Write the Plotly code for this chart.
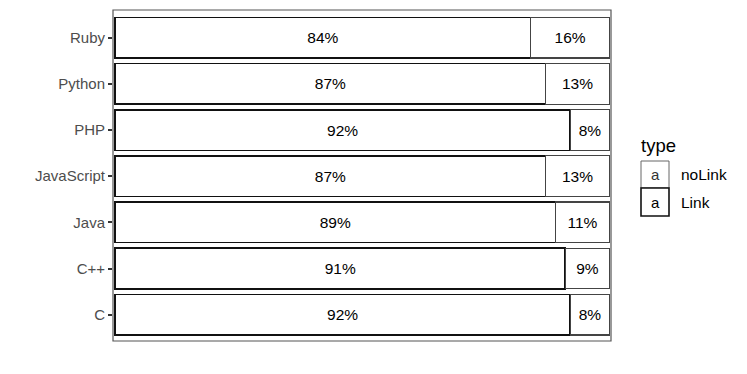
import plotly.graph_objects as go

languages = ["C", "C++", "Java", "JavaScript", "PHP", "Python", "Ruby"]
link_share = [0.92, 0.91, 0.89, 0.87, 0.92, 0.87, 0.84]
nolink_share = [0.08, 0.09, 0.11, 0.13, 0.08, 0.13, 0.16]
link_labels = ["92%", "91%", "89%", "87%", "92%", "87%", "84%"]
nolink_labels = ["8%", "9%", "11%", "13%", "8%", "13%", "16%"]
legend_title = "type"
legend_items = ["noLink", "Link"]

FONT = "Liberation Sans, Arial, Helvetica, sans-serif"

fig = go.Figure()
fig.add_trace(go.Bar(
    y=languages, x=link_share, orientation="h", name="Link",
    marker=dict(color="white", line=dict(color="#111111", width=1.6)),
    text=link_labels, textposition="inside", insidetextanchor="middle",
    textangle=0, textfont=dict(family=FONT, size=15.5, color="black"),
    width=0.88, showlegend=False, hoverinfo="skip",
))
fig.add_trace(go.Bar(
    y=languages, x=nolink_share, orientation="h", name="noLink",
    marker=dict(color="white", line=dict(color="#444444", width=1.1)),
    text=nolink_labels, textposition="inside", insidetextanchor="middle",
    textangle=0, textfont=dict(family=FONT, size=15.5, color="black"),
    width=0.88, showlegend=False, hoverinfo="skip",
))

# panel border
fig.add_shape(type="rect", xref="paper", yref="paper", x0=0, x1=1, y0=0, y1=1,
              line=dict(color="#555555", width=1.2), layer="above")

# plot-area pixel geometry in the final page (page has 8px body margin)
PL, PR, PT, PB = 113, 611, 10, 341
def px(x): return (x - PL) / (PR - PL)
def py(y): return (PB - y) / (PB - PT)

fig.add_annotation(xref="paper", yref="paper", x=px(639), y=py(145), text=legend_title,
                   showarrow=False, xanchor="left", yanchor="middle",
                   font=dict(family=FONT, size=18.5, color="black"))
boxes = [(161, 188, "#666666", 1.0), (188, 216, "#111111", 1.6)]
for (y0, y1, col, lw), label in zip(boxes, legend_items):
    fig.add_shape(type="rect", xref="paper", yref="paper",
                  x0=px(641), x1=px(669), y0=py(y1), y1=py(y0),
                  line=dict(color=col, width=lw), fillcolor="white")
    fig.add_annotation(xref="paper", yref="paper", x=px(655), y=py((y0 + y1) / 2),
                       text="a", showarrow=False, xanchor="center", yanchor="middle",
                       font=dict(family=FONT, size=15, color="#333333" if label == "noLink" else "black"))
    fig.add_annotation(xref="paper", yref="paper", x=px(679), y=py((y0 + y1) / 2),
                       text=label, showarrow=False, xanchor="left", yanchor="middle",
                       font=dict(family=FONT, size=15.5, color="black"))

W, H = 747, 374
fig.update_layout(
    barmode="stack",
    width=W, height=H,
    margin=dict(l=PL - 8, r=W - (PR - 8), t=PT - 8, b=H - (PB - 8)),
    plot_bgcolor="white", paper_bgcolor="white",
    xaxis=dict(range=[-0.0046, 1.0025], showgrid=False, zeroline=False,
               showticklabels=False, ticks="", showline=False),
    yaxis=dict(categoryorder="array", categoryarray=languages,
               range=[-0.57, 6.6], showgrid=False, zeroline=False,
               ticks="outside", ticklen=4, tickwidth=1.5, tickcolor="#333333",
               tickfont=dict(family=FONT, size=15, color="#4D4D4D"),
               showline=False, automargin=False),
)

fig.write_html("out.html")
